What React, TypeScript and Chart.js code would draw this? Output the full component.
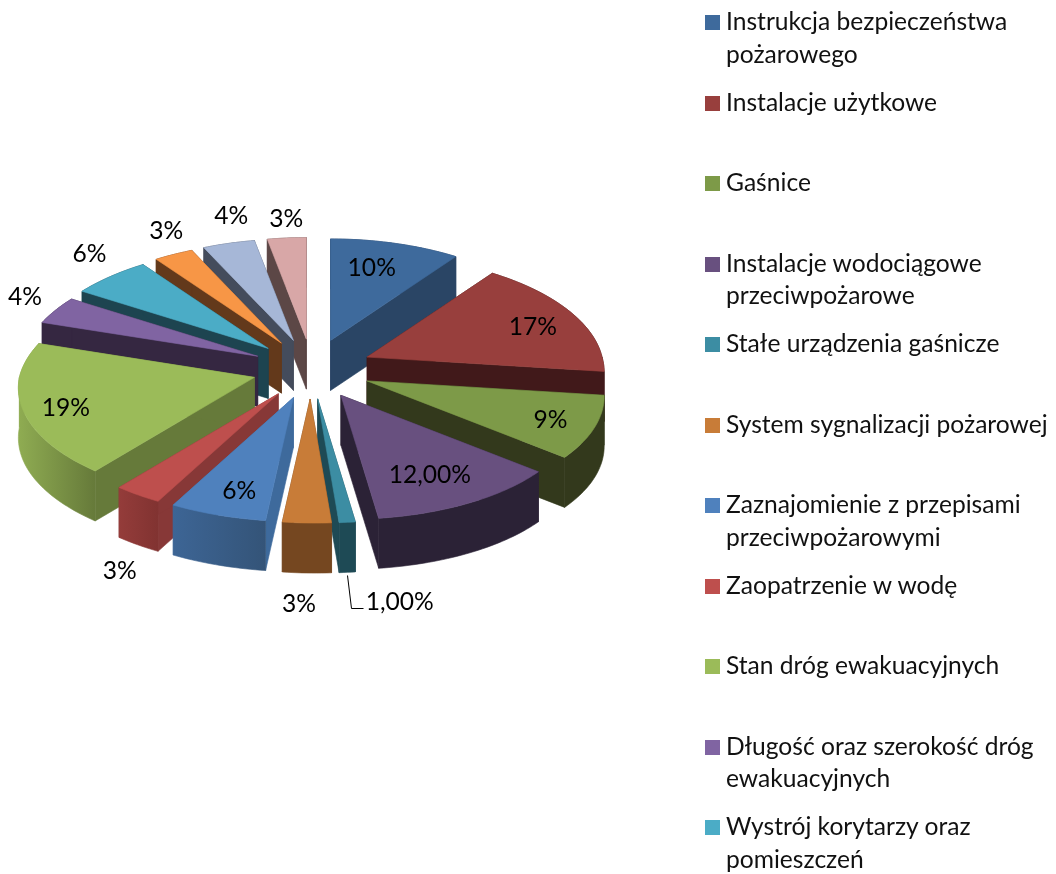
import React, { useEffect, useRef } from "react";
import { Chart, registerables } from "chart.js";

Chart.register(...registerables);

const categories = [
  "Instrukcja bezpieczeństwa\npożarowego",
  "Instalacje użytkowe",
  "Gaśnice",
  "Instalacje wodociągowe\nprzeciwpożarowe",
  "Stałe urządzenia gaśnicze",
  "System sygnalizacji pożarowej",
  "Zaznajomienie z przepisami\nprzeciwpożarowymi",
  "Zaopatrzenie w wodę",
  "Stan dróg ewakuacyjnych",
  "Długość oraz szerokość dróg\newakuacyjnych",
  "Wystrój korytarzy oraz\npomieszczeń",
];
const values = [10, 17, 9, 12, 1, 3, 6, 3, 19, 4, 6, 3, 4, 3];
const valueLabels = ["10%", "17%", "9%", "12,00%", "1,00%", "3%", "6%", "3%", "19%", "4%", "6%", "3%", "4%", "3%"];

const topColors = ["#3E6A9C", "#983F3D", "#7D9A48", "#68507F", "#3C8DA3", "#C87C38", "#4F81BD", "#BE4F4D", "#9BBB59", "#8064A2", "#4BACC6", "#F79646", "#A6B7D7", "#D8A7A7"];
const wallColors = ["#2A4565", "#41191A", "#33391C", "#2B2236", "#1E4A55", "#754720", "#3E6A9C", "#873837", "#667A3A", "#352741", "#1D4450", "#63391B", "#444C5C", "#5C4746"];
const rimFrom = ["#2A4565", "#41191A", "#33391C", "#2B2236", "#1E4A55", "#754720", "#3D6595", "#943C3A", "#8FAC52", "#352741", "#1D4450", "#63391B", "#444C5C", "#5C4746"];
const rimTo = ["#2A4565", "#41191A", "#33391C", "#2B2236", "#1E4A55", "#754720", "#345478", "#813331", "#667A3A", "#352741", "#1D4450", "#63391B", "#444C5C", "#5C4746"];

// label placement relative to the middle of each slice's rim
const labelShift = [[-23.5, 25], [-40, 13], [-44, -7], [-40, -28], [52.5, 80], [-8, 81], [21.5, -24], [-18, 76], [43, -2], [-30.5, -13], [-21, -22], [-7.5, -23], [2.5, -27], [-0.5, -19]];

const EXPLODE = 60;
const SQUASH = 0.48;
const EXPLODE_SQUASH = 0.5;
const DEPTH = 50;
const FONT = "Lato, sans-serif";
const FONT_SIZE = 24.6;

type Pt = [number, number];

function apex(arc: any): Pt {
  const mid = (arc.startAngle + arc.endAngle) / 2;
  const off = arc.options.offset;
  return [arc.x + Math.cos(mid) * off, arc.y + Math.sin(mid) * off * EXPLODE_SQUASH];
}

function project(arc: any, angle: number): Pt {
  const [ax, ay] = apex(arc);
  const u = Math.cos(angle);
  const v = Math.sin(angle);
  const R = arc.outerRadius;
  return [ax + R * u * (1 + 0.115 * v) + 5 * Math.max(v, 0), ay + R * SQUASH * v * (1 + 0.1 * v)];
}

function rimPoints(arc: any, from: number, to: number): Pt[] {
  const n = Math.max(2, Math.ceil((to - from) / 0.02));
  const pts: Pt[] = [];
  for (let i = 0; i <= n; i++) pts.push(project(arc, from + ((to - from) * i) / n));
  return pts;
}

function fillPoly(ctx: CanvasRenderingContext2D, pts: Pt[], fill: string | CanvasGradient) {
  ctx.beginPath();
  pts.forEach((p, i) => (i ? ctx.lineTo(p[0], p[1]) : ctx.moveTo(p[0], p[1])));
  ctx.closePath();
  ctx.fillStyle = fill;
  ctx.strokeStyle = fill;
  ctx.lineWidth = 0.6;
  ctx.fill();
  ctx.stroke();
}

function band(pts: Pt[]): Pt[] {
  return [...pts, ...pts.slice().reverse().map((p) => [p[0], p[1] + DEPTH] as Pt)];
}

function drawRim(ctx: CanvasRenderingContext2D, arc: any, i: number, from: number, to: number) {
  if (to <= from) return;
  // one gradient across the whole slice, so the parts of a rim join without a seam
  const xs = rimPoints(arc, arc.startAngle, arc.endAngle).map((p) => p[0]);
  const g = ctx.createLinearGradient(Math.min(...xs), 0, Math.max(...xs) + 0.01, 0);
  g.addColorStop(0, rimFrom[i]);
  g.addColorStop(1, rimTo[i]);
  fillPoly(ctx, band(rimPoints(arc, from, to)), g);
}

const pie3d = {
  id: "pie3d",
  beforeDatasetDraw(chart: any) {
    const ctx: CanvasRenderingContext2D = chart.ctx;
    const arcs: any[] = chart.getDatasetMeta(0).data;
    const order = arcs
      .map((arc, i) => ({ arc, i, depth: Math.sin((arc.startAngle + arc.endAngle) / 2) }))
      .sort((a, b) => a.depth - b.depth);

    ctx.save();
    ctx.lineJoin = "round";
    for (const { arc, i } of order) {
      const s = arc.startAngle;
      const e = arc.endAngle;
      const a = apex(arc);
      // rim parts facing away first, then the cut faces, then the front rim, then the top
      const TAU = Math.PI * 2;
      const backSpans: Pt[] = [];
      const frontSpans: Pt[] = [];
      for (const [lo, hi, list] of [
        [-Math.PI, 0, backSpans],
        [0, Math.PI, frontSpans],
        [Math.PI, TAU, backSpans],
      ] as [number, number, Pt[]][]) {
        const from = Math.max(s, lo);
        const to = Math.min(e, hi);
        if (to > from) list.push([from, to]);
      }
      backSpans.forEach(([f, t]) => drawRim(ctx, arc, i, f, t));
      fillPoly(ctx, band([a, project(arc, s)]), wallColors[i]);
      fillPoly(ctx, band([a, project(arc, e)]), wallColors[i]);
      frontSpans.forEach(([f, t]) => drawRim(ctx, arc, i, f, t));
      fillPoly(ctx, [a, ...rimPoints(arc, s, e)], topColors[i]);
    }

    ctx.font = `${FONT_SIZE}px ${FONT}`;
    ctx.textAlign = "center";
    ctx.textBaseline = "middle";
    arcs.forEach((arc, i) => {
      const rim = project(arc, (arc.startAngle + arc.endAngle) / 2);
      const lx = rim[0] + labelShift[i][0];
      const ly = rim[1] + labelShift[i][1];
      ctx.fillStyle = "#000";
      ctx.fillText(valueLabels[i], lx, ly);
      if (values[i] === 1) {
        const ex = Math.round(lx - 49) + 0.5;
        const ey = Math.round(ly + 6) + 0.5;
        ctx.beginPath();
        ctx.moveTo(ex - 4, ey - 33);
        ctx.lineTo(ex, ey);
        ctx.lineTo(ex + 12, ey);
        ctx.strokeStyle = "#000";
        ctx.lineWidth = 1;
        ctx.stroke();
      }
    });
    ctx.restore();
    return false;
  },
};

export default function App() {
  const ref = useRef<HTMLCanvasElement>(null);
  useEffect(() => {
    const chart = new Chart(ref.current!, {
      type: "pie",
      data: {
        labels: categories.map((c) => c.replace("\n", " ")),
        datasets: [{ data: values, backgroundColor: topColors, offset: EXPLODE, borderWidth: 0 }],
      },
      options: {
        animation: false,
        responsive: false,
        radius: 235,
        layout: { padding: { right: 432, bottom: 136 } },
        plugins: { legend: { display: false }, tooltip: { enabled: false } },
      } as any,
      plugins: [pie3d as any],
    });
    return () => chart.destroy();
  }, []);
  return (
    <div style={{ position: "fixed", left: 0, top: 0, width: 1056, height: 874, overflow: "hidden", background: "#fff" }}>
      <canvas ref={ref} width={1056} height={874} style={{ position: "absolute", left: 0, top: 0 }} />
      {categories.map((c, i) => (
        <div key={c} style={{ position: "absolute", left: 0, top: i * 80.5 }}>
          <div style={{ position: "absolute", left: 705, top: 15, width: 15, height: 15, background: topColors[i] }} />
          <div
            style={{
              position: "absolute",
              left: 726,
              top: 5,
              width: 330,
              whiteSpace: "pre-line",
              font: `${FONT_SIZE}px/32.5px ${FONT}`,
              color: "#111",
            }}
          >
            {c}
          </div>
        </div>
      ))}
    </div>
  );
}
